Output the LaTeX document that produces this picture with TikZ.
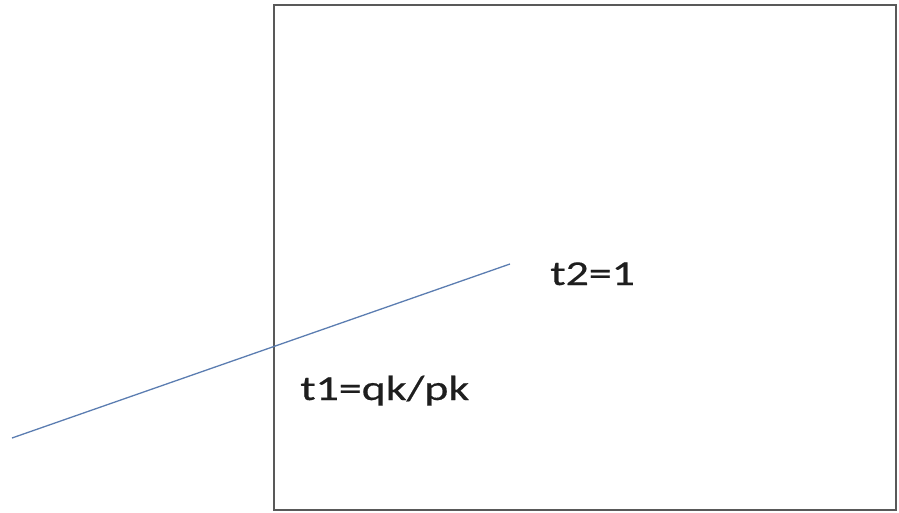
\documentclass[tikz,border=0pt]{standalone}
\usepackage{fontspec}
\setmainfont{Carlito}
\newfontfamily\labelfont{Carlito}[FakeBold=0.4]
\definecolor{framegray}{HTML}{595959}
\definecolor{rayblue}{HTML}{5B7DB1}
\definecolor{labelink}{HTML}{1E1E1E}
\begin{document}
\begin{tikzpicture}[x=1pt,y=-1pt,
  framebox/.style={draw=framegray, line width=1.6pt, minimum width=622pt,
    minimum height=505pt, inner sep=0pt, outer sep=0pt},
  ray/.style={draw=rayblue, line width=1.3pt},
  param/.style={text=labelink, inner sep=0pt, anchor=base west,
    font=\labelfont\fontsize{35}{42}\selectfont, xscale=1.31}]
  \useasboundingbox (0,0) rectangle (899,513);
  % clipping window
  \node[framebox] (frame) at (585,257.5) {};
  % segment end points
  \coordinate (p0) at (12,438);
  \coordinate (p1) at (510,264);
  \draw[ray] (p0) -- (p1);
  % parameter labels
  \node[param] (t2) at (550,285) {t2=1};
  \node[param] (t1) at (300,400) {t1=qk/pk};
\end{tikzpicture}
\end{document}
